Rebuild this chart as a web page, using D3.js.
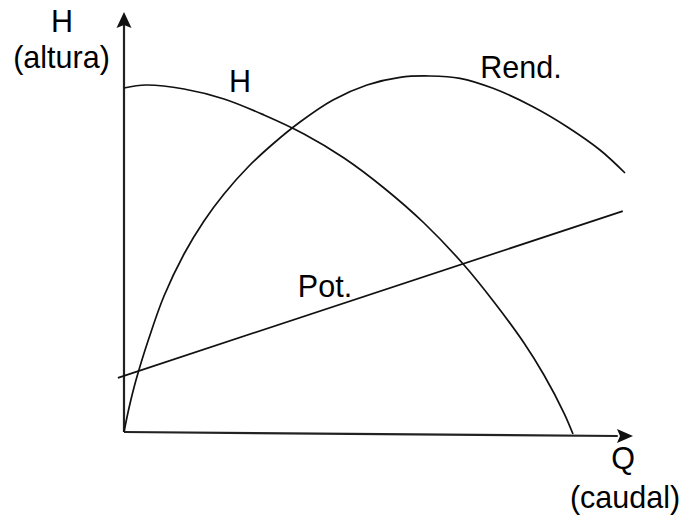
<!DOCTYPE html>
<html>
<head>
<meta charset="utf-8">
<script src="https://cdn.jsdelivr.net/npm/d3@7"></script>
<style>
  html, body { margin: 0; padding: 0; background: #fff; }
  svg { display: block; }
  text { font-family: "Liberation Sans", Arial, sans-serif; fill: #000; }
</style>
</head>
<body>
<svg id="chart" width="683" height="518"></svg>
<script>
// Data, arbitrary units 0..100
const hQ = [0, 4.32, 11.79, 19.65, 27.50, 35.36, 43.22, 51.08, 58.94, 66.80, 72.69, 78.59, 82.51, 86.44, 88.21];
const hH = [81.90, 82.62, 81.67, 79.29, 75.48, 70.95, 65.24, 58.10, 49.76, 39.76, 30.95, 21.19, 13.57, 4.52, -0.48];

const rendQ = [0, 0.98, 2.36, 4.91, 7.86, 11.79, 15.72, 19.65, 24.56, 29.47, 34.58, 41.06, 47.74, 54.22, 60.12, 66.01, 72.50, 80.35, 87.03, 93.52, 98.43];
const rendV = [0, 5.71, 12.38, 22.38, 32.38, 42.38, 50.24, 56.67, 63.33, 68.81, 73.81, 79.05, 82.62, 84.45, 84.76, 84.21, 81.83, 77.45, 72.69, 67.14, 61.67];

const potQ = [-1.2, 98.0];
const potV = [12.9, 52.6];

// Axis ends (x axis is drawn slightly tilted in the reference)
const xAxisQ = [0, 100];
const xAxisV = [0, -0.95];
const yAxisQ = [0, 0];
const yAxisV = [0, 100];

const labels = ["H", "(altura)", "H", "Rend.", "Pot.", "Q", "(caudal)"];

const svg = d3.select("#chart");
const x = d3.scaleLinear().domain([0, 100]).range([124, 633]);
const y = d3.scaleLinear().domain([0, 100]).range([432, 12]);

const zip = (a, b) => a.map((v, i) => [v, b[i]]);
const line = d3.line().x(d => x(d[0])).y(d => y(d[1]));
const curve = d3.line().x(d => x(d[0])).y(d => y(d[1])).curve(d3.curveCatmullRom.alpha(0.5));

// Axes
const axisG = svg.append("g").attr("stroke", "#222").attr("stroke-width", 2.2).attr("fill", "none");
const yEnd = zip(yAxisQ, yAxisV);
axisG.append("path").attr("d", line([yEnd[0], [yEnd[1][0], yEnd[1][1] - 3]]));
const xEnd = zip(xAxisQ, xAxisV);
axisG.append("path").attr("d", line([xEnd[0], [xEnd[1][0] - 3, xEnd[1][1]]]));

// Arrowheads
const yt = [x(yAxisQ[1]), y(yAxisV[1])];
svg.append("path")
  .attr("d", `M${yt[0]},${yt[1]} L${yt[0] - 7.5},${yt[1] + 16} L${yt[0]},${yt[1] + 13} L${yt[0] + 7.5},${yt[1] + 16} Z`)
  .attr("fill", "#111");
const xt = [x(xAxisQ[1]), y(xAxisV[1])];
svg.append("path")
  .attr("d", `M${xt[0]},${xt[1]} L${xt[0] - 16},${xt[1] - 7} L${xt[0] - 13},${xt[1]} L${xt[0] - 16},${xt[1] + 7} Z`)
  .attr("fill", "#111");

// Curves
const curvesG = svg.append("g").attr("fill", "none").attr("stroke", "#111").attr("stroke-width", 1.7);
curvesG.append("path").attr("d", curve(zip(hQ, hH)));
curvesG.append("path").attr("d", curve(zip(rendQ, rendV)));
curvesG.append("path").attr("d", line(zip(potQ, potV)));

// Labels (pixel layout)
const labelPos = [
  [62, 32], [61.5, 68], [240, 92], [521, 78], [325, 297], [623, 469], [625, 508]
];
svg.append("g").selectAll("text").data(labels).join("text")
  .attr("x", (d, i) => labelPos[i][0])
  .attr("y", (d, i) => labelPos[i][1])
  .attr("text-anchor", "middle")
  .attr("font-size", 30.5)
  .text(d => d);
</script>
</body>
</html>
